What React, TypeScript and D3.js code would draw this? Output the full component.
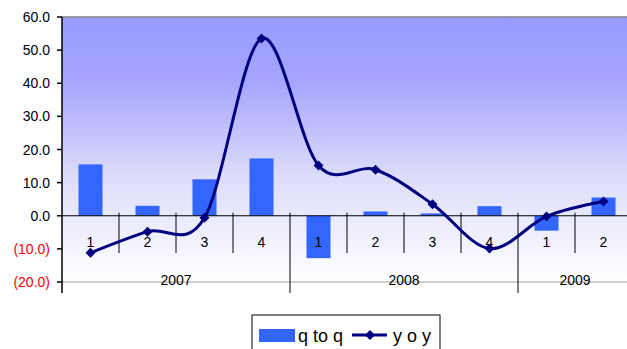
import React from "react";
import * as d3 from "d3";

const quarters = ["1", "2", "3", "4", "1", "2", "3", "4", "1", "2"];
const years = ["2007", "2008", "2009"];
const yearSpans = [4, 4, 2];
const qToQ = [15.5, 3.0, 11.0, 17.3, -12.8, 1.3, 0.7, 2.9, -4.5, 5.5];
const yOY = [-11.2, -4.8, -0.6, 53.5, 15.2, 13.9, 3.5, -9.9, -0.2, 4.3];
const yTicks = [60, 50, 40, 30, 20, 10, 0, -10, -20];

const W = 627;
const H = 349;
const left = 62;
const slot = 57;
const top = 17;
const bottom = 282;

export default function App() {
  const x = d3
    .scaleBand<number>()
    .domain(d3.range(quarters.length))
    .range([left, left + slot * quarters.length])
    .paddingInner(0);
  const y = d3.scaleLinear().domain([-20, 60]).range([bottom, top]);
  const barW = 24;
  const line = d3
    .line<number>()
    .x((_, i) => (x(i) as number) + x.bandwidth() / 2)
    .y((d) => y(d))
    .curve(d3.curveCardinal.tension(0));
  const plotRight = left + slot * quarters.length;
  const fmt = (v: number) => (v < 0 ? `(${Math.abs(v).toFixed(1)})` : v.toFixed(1));
  let acc = 0;
  const yearBounds = yearSpans.map((s) => {
    const start = acc;
    acc += s;
    return { start, end: acc };
  });
  const font = "'Liberation Sans', Arial, sans-serif";
  const diamond = (cx: number, cy: number, r: number) =>
    `M${cx},${cy - r}L${cx + r},${cy}L${cx},${cy + r}L${cx - r},${cy}Z`;
  return (
    <svg
      width={W}
      height={H}
      style={{ position: "absolute", left: 0, top: 0, fontFamily: font }}
    >
      <defs>
        <linearGradient id="bg" x1="0" y1="0" x2="0" y2="1">
          <stop offset="0" stopColor="#9999FF" />
          <stop offset="0.25" stopColor="#a6a6fd" />
          <stop offset="0.6" stopColor="#dcdcfb" />
          <stop offset="1" stopColor="#ffffff" />
        </linearGradient>
      </defs>
      <rect x={left} y={top} width={plotRight - left} height={bottom - top} fill="url(#bg)" />
      <line x1={left} x2={plotRight} y1={top} y2={top} stroke="#808080" strokeWidth={1.5} />
      <line x1={left} x2={plotRight} y1={bottom} y2={bottom} stroke="#a0a0a0" strokeWidth={1} />
      {qToQ.map((v, i) => (
        <rect
          key={i}
          x={(x(i) as number) + x.bandwidth() / 2 - barW / 2}
          y={y(Math.max(0, v))}
          width={barW}
          height={Math.abs(y(v) - y(0))}
          fill="#3366FF"
        />
      ))}
      <line x1={left} x2={plotRight} y1={y(0)} y2={y(0)} stroke="#000" strokeWidth={1} />
      {quarters.map((q, i) =>
        i === 0 ? null : (
          <line
            key={"s" + i}
            x1={x(i) as number}
            x2={x(i) as number}
            y1={y(0) - 3}
            y2={yearBounds.some((b) => b.start === i) ? 293 : 253}
            stroke="#000"
            strokeWidth={1}
          />
        )
      )}
      {quarters.map((q, i) => (
        <text
          key={"q" + i}
          x={(x(i) as number) + x.bandwidth() / 2}
          y={247}
          textAnchor="middle"
          fontSize={14}
          fill="#000"
        >
          {q}
        </text>
      ))}
      {years.map((yr, k) => (
        <text
          key={yr}
          x={left + slot * ((yearBounds[k].start + yearBounds[k].end) / 2)}
          y={285}
          textAnchor="middle"
          fontSize={14}
          fill="#000"
        >
          {yr}
        </text>
      ))}
      <line x1={left} x2={left} y1={top} y2={293} stroke="#000" strokeWidth={1.5} />
      {yTicks.map((t) => (
        <g key={t}>
          <line x1={left - 5} x2={left} y1={y(t)} y2={y(t)} stroke="#000" strokeWidth={1.5} />
          <text
            x={50}
            y={y(t) + 5}
            textAnchor="end"
            fontSize={14}
            fill={t < 0 ? "#FF0000" : "#000"}
          >
            {fmt(t)}
          </text>
        </g>
      ))}
      <path d={line(yOY) || ""} fill="none" stroke="#000080" strokeWidth={3} />
      {yOY.map((v, i) => (
        <path
          key={"m" + i}
          d={diamond((x(i) as number) + x.bandwidth() / 2, y(v), 5)}
          fill="#000080"
        />
      ))}
      <rect x={252} y={315} width={188} height={40} fill="#fff" stroke="#000" strokeWidth={1} />
      <rect x={259} y={329} width={36} height={13} fill="#3366FF" />
      <text x={298} y={342} fontSize={18} fill="#000">
        q to q
      </text>
      <line x1={352} x2={387} y1={335} y2={335} stroke="#000080" strokeWidth={3} />
      <path d={diamond(370, 335, 5)} fill="#000080" />
      <text x={393} y={342} fontSize={18} fill="#000">
        y o y
      </text>
    </svg>
  );
}
